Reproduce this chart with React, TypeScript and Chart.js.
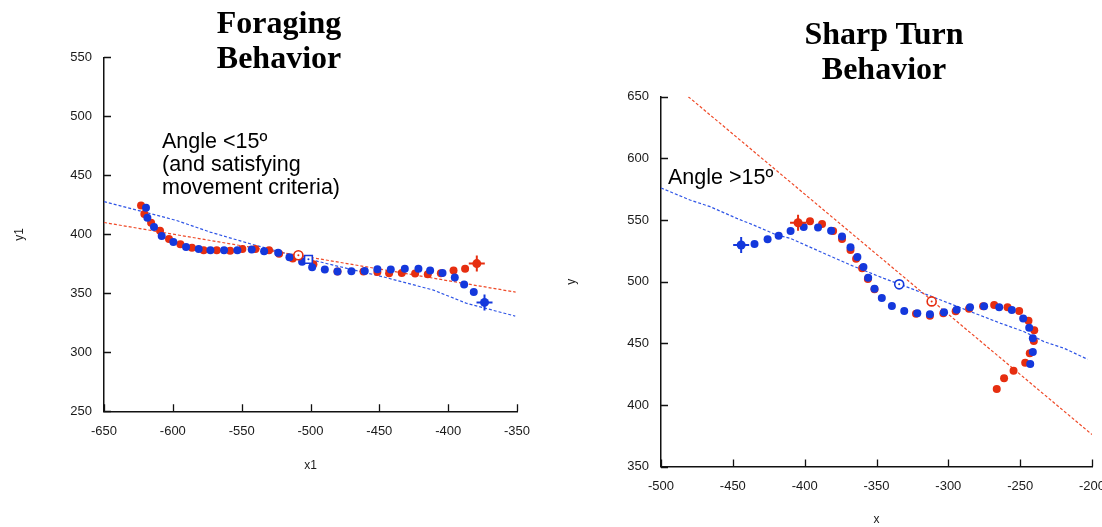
import React, { useEffect, useRef } from 'react';
import { Chart, registerables } from 'chart.js';

Chart.register(...registerables);

const SANS = '"Liberation Sans", Arial, Helvetica, sans-serif';
const SERIF = '"Liberation Serif", "Times New Roman", Times, serif';
Chart.defaults.font.family = SANS;

const RED = '#e62e10';
const BLUE = '#1438dc';
const RED_LINE = '#ef4a28';
const BLUE_LINE = '#2f55e6';

// ---------- Foraging Behavior (left) ----------
const forageXTicks = [-650, -600, -550, -500, -450, -400, -350];
const forageYTicks = [250, 300, 350, 400, 450, 500, 550];

const forageRedX = [-623.1, -620.7, -615.8, -609.3, -602.8, -594.5, -586.1, -577.6, -568.1, -558.4, -549.5, -540.0, -530.1, -522.8, -512.9, -497.9, -480.4, -461.5, -451.4, -442.9, -433.7, -424.0, -414.8, -405.3, -396.1, -387.7];
const forageRedY = [424.4, 417.3, 409.7, 403.0, 396.0, 391.5, 388.7, 386.4, 386.4, 386.1, 387.5, 387.5, 386.4, 383.6, 379.4, 374.6, 368.4, 368.4, 368.1, 367.0, 367.3, 366.7, 366.2, 367.0, 369.3, 370.9];

const forageBlueX = [-619.5, -618.5, -613.7, -608.1, -599.6, -590.4, -581.2, -572.7, -562.8, -553.1, -542.7, -533.7, -523.5, -515.3, -506.1, -498.8, -489.6, -480.4, -470.3, -460.6, -451.4, -441.7, -431.5, -421.6, -413.1, -404.1, -395.2, -388.4, -381.4];
const forageBlueY = [422.4, 414.0, 406.1, 398.5, 393.4, 389.2, 387.5, 386.4, 386.4, 386.4, 387.2, 385.6, 384.4, 380.5, 376.8, 372.1, 370.1, 368.4, 368.7, 369.0, 370.4, 370.1, 370.7, 370.7, 369.3, 367.3, 363.4, 357.4, 351.0];

const forageRedStart = [-379.2, 375.2];
const forageBlueStart = [-373.6, 342.3];
const forageRedMean = [-508.8, 382.2];
const forageBlueMean = [-501.5, 378.8];

const forageRedFitX = [-650, -351];
const forageRedFitY = [410.0, 351.0];
const forageBlueFitX = [-650, -597.2, -573.0, -543.9, -517.3, -483.3, -447.0, -410.7, -386.4, -351.3];
const forageBlueFitY = [427.7, 411.7, 401.9, 392.0, 383.6, 373.8, 363.9, 352.7, 341.4, 330.7];

// ---------- Sharp Turn Behavior (right) ----------
const turnXTicks = [-500, -450, -400, -350, -300, -250, -200];
const turnYTicks = [350, 400, 450, 500, 550, 600, 650];

const turnBlueX = [-434.9, -425.8, -418.1, -409.8, -400.7, -390.7, -381.6, -374.0, -368.1, -363.3, -359.1, -355.8, -351.4, -346.3, -339.3, -330.7, -321.6, -312.8, -303.0, -294.2, -284.9, -275.1, -264.6, -255.8, -247.9, -243.7, -241.2, -241.2, -243.0];
const turnBlueY = [530.5, 534.3, 537.3, 541.1, 544.3, 544.0, 541.3, 536.7, 527.8, 520.0, 511.9, 503.2, 494.3, 486.7, 480.2, 476.2, 474.3, 473.5, 475.1, 477.3, 479.2, 480.0, 479.2, 477.0, 470.2, 462.7, 454.0, 442.9, 433.2];

const turnRedX = [-396.3, -387.9, -380.2, -374.0, -368.1, -364.2, -360.0, -356.0, -351.4, -322.5, -312.8, -303.5, -294.9, -285.6, -275.8, -268.1, -258.8, -250.7, -244.2, -240.2, -240.5, -243.3, -246.5, -254.6, -261.2, -266.3];
const turnRedY = [548.9, 546.7, 541.1, 534.6, 525.6, 518.6, 510.8, 502.1, 493.8, 474.0, 472.4, 474.3, 475.9, 478.1, 480.0, 481.1, 479.2, 476.2, 468.3, 460.5, 451.9, 441.9, 434.3, 427.8, 421.6, 413.0];

const turnRedStart = [-404.6, 547.8];
const turnBlueStart = [-444.2, 529.7];
const turnRedMean = [-311.6, 484.0];
const turnBlueMean = [-334.2, 497.8];

const turnRedFitX = [-481, -200];
const turnRedFitY = [650, 376];
const turnBlueFitX = [-500, -479.8, -465.8, -447.2, -435.6, -419.3, -410.0, -389.1, -368.1, -344.9, -326.3, -305.3, -284.4, -263.5, -247.2, -233.3, -219.3, -203.0];
const turnBlueFitY = [576.0, 566.2, 560.8, 551.3, 545.9, 537.8, 535.1, 524.3, 513.5, 502.7, 494.6, 485.1, 475.6, 466.2, 459.4, 451.3, 445.9, 437.0];

const zip = (xs: number[], ys: number[]) => xs.map((x, i) => ({ x, y: ys[i] }));
const pt = (p: number[]) => [{ x: p[0], y: p[1] }];

const innerTicks = {
  id: 'innerTicks',
  afterDraw(chart: any) {
    const { ctx, chartArea } = chart;
    const xs = chart.scales.x;
    const ys = chart.scales.y;
    ctx.save();
    ctx.strokeStyle = '#111';
    ctx.lineWidth = 1.3;
    ctx.beginPath();
    xs.ticks.forEach((t: any) => {
      const px = Math.round(xs.getPixelForValue(t.value)) + 0.5;
      ctx.moveTo(px, chartArea.bottom);
      ctx.lineTo(px, chartArea.bottom - 7);
    });
    ys.ticks.forEach((t: any) => {
      const py = Math.round(ys.getPixelForValue(t.value)) + 0.5;
      ctx.moveTo(chartArea.left, py);
      ctx.lineTo(chartArea.left + 7, py);
    });
    ctx.stroke();
    ctx.restore();
  },
};

// Chart.js paints datasets with larger `order` first, so lower order = on top.
function fitLine(data: any[], color: string) {
  return {
    data,
    order: 10,
    showLine: true,
    borderColor: color,
    borderWidth: 1.2,
    borderDash: [3, 2],
    pointRadius: 0,
    fill: false,
    tension: 0,
  };
}
function dots(data: any[], color: string, order: number) {
  return { data, order, showLine: false, pointRadius: 4, pointBackgroundColor: color, pointBorderWidth: 0, borderColor: color };
}
function star(data: any[], color: string) {
  return [
    { data, order: 1, showLine: false, pointStyle: 'cross', pointRadius: 8, pointBorderColor: color, pointBorderWidth: 2 },
    { data, order: 1, showLine: false, pointRadius: 4.5, pointBackgroundColor: color, pointBorderWidth: 0 },
  ];
}
function mean(data: any[], color: string, style: string) {
  return [
    { data, order: 0, showLine: false, pointRadius: 1, pointBackgroundColor: color, pointBorderWidth: 0 },
    { data, order: 1, showLine: false, pointStyle: style, pointRadius: style === 'rect' ? 5.5 : 4.5, pointBackgroundColor: '#fff', pointBorderColor: color, pointBorderWidth: 1.6 },
  ];
}

interface PanelOpts {
  xTicks: number[];
  yTicks: number[];
  xTitle: string;
  yTitle: string;
  datasets: any[];
  padding: { left: number; right: number; top: number; bottom: number };
  yWidth: number;
  xHeight: number;
  yTitlePad: number;
  xTitlePad: number;
}

function makeConfig(o: PanelOpts): any {
  return {
    type: 'scatter',
    data: { datasets: o.datasets },
    plugins: [innerTicks],
    options: {
      animation: false,
      responsive: false,
      events: [],
      layout: { padding: o.padding },
      plugins: { legend: { display: false }, tooltip: { enabled: false }, title: { display: false } },
      scales: {
        x: {
          type: 'linear',
          min: o.xTicks[0],
          max: o.xTicks[o.xTicks.length - 1],
          afterBuildTicks: (s: any) => { s.ticks = o.xTicks.map((v) => ({ value: v })); },
          ticks: { color: '#1a1a1a', font: { size: 13 }, padding: 12, maxRotation: 0, autoSkip: false },
          grid: { display: false, drawTicks: false },
          border: { display: true, color: '#111', width: 1.5 },
          title: { display: true, text: o.xTitle, color: '#1a1a1a', font: { size: 12 }, padding: { top: 0, bottom: o.xTitlePad } },
          afterFit: (s: any) => { s.height = o.xHeight; },
        },
        y: {
          type: 'linear',
          min: o.yTicks[0],
          max: o.yTicks[o.yTicks.length - 1],
          afterBuildTicks: (s: any) => { s.ticks = o.yTicks.map((v) => ({ value: v })); },
          ticks: { color: '#1a1a1a', font: { size: 13 }, padding: 12, autoSkip: false },
          grid: { display: false, drawTicks: false },
          border: { display: true, color: '#111', width: 1.5 },
          title: { display: true, text: o.yTitle, color: '#1a1a1a', font: { size: 12 }, padding: { top: o.yTitlePad, bottom: 0 } },
          afterFit: (s: any) => { s.width = o.yWidth; },
        },
      },
    },
  };
}

function Panel({ cfg, left, width, height }: { cfg: () => any; left: number; width: number; height: number }) {
  const ref = useRef<HTMLCanvasElement>(null);
  useEffect(() => {
    const chart = new Chart(ref.current as HTMLCanvasElement, cfg());
    return () => chart.destroy();
  }, []);
  return (
    <canvas
      ref={ref}
      width={width}
      height={height}
      style={{ position: 'absolute', left, top: 0, width, height, display: 'block' }}
    />
  );
}

const forageCfg = () =>
  makeConfig({
    xTicks: forageXTicks,
    yTicks: forageYTicks,
    xTitle: 'x1',
    yTitle: 'y1',
    datasets: [
      ...mean(pt(forageRedMean), RED, 'circle'),
      ...mean(pt(forageBlueMean), BLUE, 'rect'),
      ...star(pt(forageRedStart), RED),
      ...star(pt(forageBlueStart), BLUE),
      dots(zip(forageBlueX, forageBlueY), BLUE, 2),
      dots(zip(forageRedX, forageRedY), RED, 3),
      fitLine(zip(forageRedFitX, forageRedFitY), RED_LINE),
      fitLine(zip(forageBlueFitX, forageBlueFitY), BLUE_LINE),
    ],
    padding: { left: 0, right: 34, top: 57.3, bottom: 0 },
    yWidth: 104,
    xHeight: 115.7,
    yTitlePad: 12.8,
    xTitlePad: 53.8,
  });

const turnCfg = () =>
  makeConfig({
    xTicks: turnXTicks,
    yTicks: turnYTicks,
    xTitle: 'x',
    yTitle: 'y',
    datasets: [
      ...mean(pt(turnRedMean), RED, 'circle'),
      ...mean(pt(turnBlueMean), BLUE, 'circle'),
      ...star(pt(turnRedStart), RED),
      ...star(pt(turnBlueStart), BLUE),
      dots(zip(turnBlueX, turnBlueY), BLUE, 2),
      dots(zip(turnRedX, turnRedY), RED, 3),
      fitLine(zip(turnRedFitX, turnRedFitY), RED_LINE),
      fitLine(zip(turnBlueFitX, turnBlueFitY), BLUE_LINE),
    ],
    padding: { left: 0, right: 29, top: 96.7, bottom: 0 },
    yWidth: 110,
    xHeight: 60.4,
    yTitlePad: 13.8,
    xTitlePad: 0,
  });

const titleStyle: React.CSSProperties = {
  position: 'absolute',
  width: 400,
  textAlign: 'center',
  fontFamily: SERIF,
  fontWeight: 'bold',
  fontSize: 32,
  lineHeight: '35px',
  color: '#000',
  whiteSpace: 'nowrap',
};
const noteStyle: React.CSSProperties = {
  position: 'absolute',
  fontFamily: SANS,
  fontSize: 21.5,
  lineHeight: '23px',
  color: '#000',
  whiteSpace: 'nowrap',
};

export default function App() {
  useEffect(() => {
    document.body.style.margin = '0';
  }, []);
  return (
    <div style={{ position: 'fixed', left: 0, top: 0, width: 1102, height: 527, overflow: 'hidden', background: '#fff' }}>
      <Panel cfg={forageCfg} left={0} width={551} height={527} />
      <Panel cfg={turnCfg} left={551} width={570} height={527} />
      <div style={{ ...titleStyle, left: 279 - 200, top: 4.5 }}>
        Foraging
        <br />
        Behavior
      </div>
      <div style={{ ...titleStyle, left: 884 - 200, top: 15.5 }}>
        Sharp Turn
        <br />
        Behavior
      </div>
      <div style={{ ...noteStyle, left: 162, top: 129.5 }}>
        Angle &lt;15º
        <br />
        (and satisfying
        <br />
        movement criteria)
      </div>
      <div style={{ ...noteStyle, left: 668, top: 165.5 }}>Angle &gt;15º</div>
    </div>
  );
}
